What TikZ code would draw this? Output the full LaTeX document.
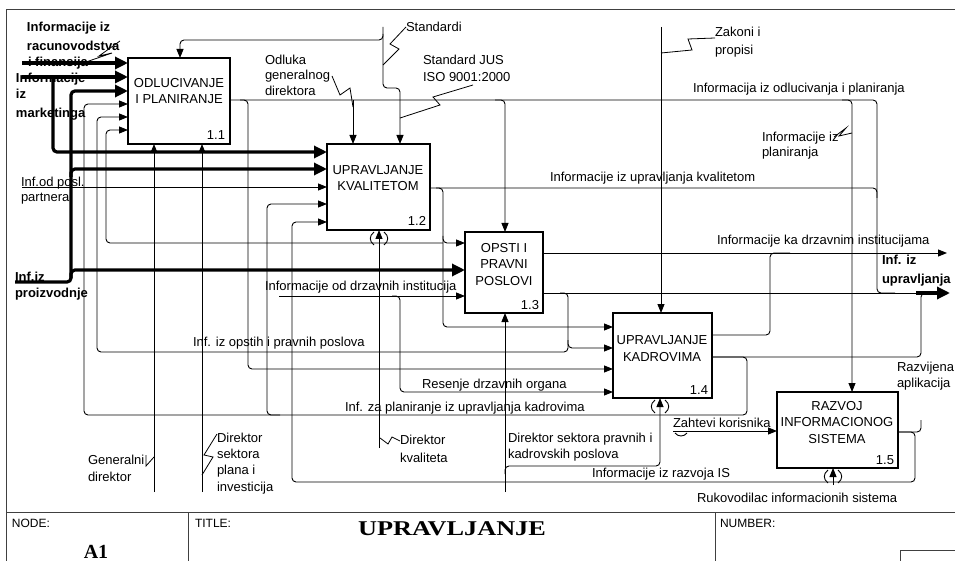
\documentclass[tikz,border=0pt]{standalone}
\usepackage{fontspec}
\usepackage{graphicx}
\setmainfont{Liberation Sans}
\newfontfamily\titlefont{Liberation Serif}
\usetikzlibrary{arrows.meta}
\begin{document}
\begin{tikzpicture}[x=1pt,y=-1pt,
  every node/.style={inner sep=0pt,outer sep=0pt},
  lb/.style={anchor=base west,font=\fontsize{13}{15}\selectfont},
  lbb/.style={anchor=base west,font=\fontsize{13}{15}\selectfont\bfseries},
  bt/.style={anchor=base,font=\fontsize{13}{15}\selectfont},
  num/.style={anchor=base east,font=\fontsize{13}{15}\selectfont},
  box/.style={draw,line width=1.6pt,fill=white},
  ln/.style={line width=0.9pt},
  rc/.style={rounded corners=4pt},
  ar/.style={line width=0.9pt,-{Triangle[length=9pt,width=7pt]}},
  tk/.style={line width=3.2pt,-{Triangle[length=13pt,width=12pt]}},
  sq/.style={line width=0.8pt},
  frame/.style={line width=1pt,black!75},
  tb/.style={anchor=base west,font=\fontsize{12}{14}\selectfont},
  tun/.style={line width=0.9pt}
]
\useasboundingbox (0,0) rectangle (955,561);

% frame and title block
\draw[frame] (6,561) -- (6,10) -- (955,10);
\draw[frame] (6,512) -- (955,512);
\draw[frame] (188,512) -- (188,561);
\draw[frame] (715,512) -- (715,561);
\draw[frame] (900,561) -- (900,550) -- (955,550);
\node[tb] (tnode) at (12,527) {NODE:};
\node[tb] (ttitle) at (195,527) {TITLE:};
\node[tb] (tnum) at (720,527) {NUMBER:};
\node[anchor=base,font=\fontsize{21}{24}\selectfont\titlefont\bfseries] (ttl) at (452,535) {\scalebox{1.25}[1]{UPRAVLJANJE}};
\node[anchor=base,font=\fontsize{20}{24}\selectfont\titlefont\bfseries] (ta1) at (96,558) {A1};

% boxes
\node[box,minimum width=102pt,minimum height=86pt] (b1) at (179,101) {};
\node[box,minimum width=103pt,minimum height=86pt] (b2) at (378.5,187) {};
\node[box,minimum width=78pt,minimum height=81pt] (b3) at (504,272.5) {};
\node[box,minimum width=99pt,minimum height=85pt] (b4) at (662.5,355.5) {};
\node[box,minimum width=121pt,minimum height=76pt] (b5) at (837.5,430) {};

\node[bt] (t11a) at (179,87.5) {ODLUCIVANJE};
\node[bt] (t11b) at (179,103.5) {I PLANIRANJE};
\node[num] (n11) at (225,139.5) {1.1};
\node[bt] (t12a) at (378,174.5) {UPRAVLJANJE};
\node[bt] (t12b) at (378,190.5) {KVALITETOM};
\node[num] (n12) at (426,226) {1.2};
\node[bt] (t13a) at (504,252) {OPSTI I};
\node[bt] (t13b) at (504,268.5) {PRAVNI};
\node[bt] (t13c) at (504,285) {POSLOVI};
\node[num] (n13) at (539,309) {1.3};
\node[bt] (t14a) at (662,344.5) {UPRAVLJANJE};
\node[bt] (t14b) at (662,361) {KADROVIMA};
\node[num] (n14) at (708,394) {1.4};
\node[bt] (t15a) at (837,410) {RAZVOJ};
\node[bt] (t15b) at (837,426.5) {INFORMACIONOG};
\node[bt] (t15c) at (837,443) {SISTEMA};
\node[num] (n15) at (894,464) {1.5};

% ---------- connectors ----------
% external inputs
\draw[tk] (22,63) -- (b1.west |- 0,63);
\draw[tk] (22,77) -- (b1.west |- 0,77);
\draw[tk,rc] (53,77) -- (53,152) -- (b2.west |- 0,152);
\draw[tk,rc] (15,282) -- (71,282) -- (71,91) -- (b1.west |- 0,91);
\draw[tk,rc] (71,177) -- (71,169) -- (b2.west |- 0,169);
\draw[tk,rc] (71,278) -- (71,270) -- (b3.west |- 0,270);
\draw[ar] (22,187) -- (b2.west |- 0,187);
\draw[ar] (279,296) -- (b3.west |- 0,296);
\draw[ar,rc] (392,296) -- (400,296) -- (400,392) -- (b4.west |- 0,392);

% controls
\draw[ar,rc] (383,27) -- (383,88) -- (400,88) -- (b2.north -| 400,0);
\draw[ar,rc] (383,34) -- (383,40) -- (180,40) -- (b1.north -| 180,0);
\draw[ar] (661,27) -- (b4.north -| 661,0);

% output of 1.1
\draw[ln,rc] (b1.east |- 0,100) -- (877,100) -- (877,293) -- (895,293);
\draw[ar,rc] (240,100) -- (248,100) -- (248,369) -- (b4.west |- 0,369);
\draw[ar] (353,100) -- (b2.north -| 353,0);
\draw[ar,rc] (495,100) -- (505,100) -- (b3.north -| 505,0);
\draw[ar,rc] (842,100) -- (852,100) -- (b5.north -| 852,0);

% output of 1.2
\draw[ln,rc] (b2.east |- 0,188) -- (877,188) -- (877,198);
\draw[ar,rc] (436,188) -- (443,188) -- (443,327) -- (b4.west |- 0,327);
\draw[ar,rc] (443,236) -- (443,243) -- (b3.west |- 0,243);
\draw[ar,rc] (443,243) -- (106,243) -- (106,130) -- (b1.west |- 0,130);

% outputs of 1.3
\draw[ar] (b3.east |- 0,253) -- (947,253);
\draw[ln] (b3.east |- 0,293) -- (921,293);
\draw[tk] (916,293) -- (950,293);
\draw[ar,rc] (560,293) -- (568,293) -- (568,352) -- (97,352) -- (97,117) -- (b1.west |- 0,117);
\draw[ar,rc] (568,340) -- (568,348) -- (b4.west |- 0,348);

% outputs of 1.4
\draw[ln,rc] (b4.east |- 0,335) -- (770,335) -- (770,253) -- (790,253);
\draw[ln,rc] (b4.east |- 0,357) -- (921,357) -- (921,293) -- (930,293);
\draw[ar,rc] (b4.east |- 0,357) -- (747,357) -- (747,415) -- (84,415) -- (84,104) -- (b1.west |- 0,104);
\draw[ar,rc] (280,415) -- (267,415) -- (267,204) -- (b2.west |- 0,204);

% outputs of 1.5
\draw[ln,rc] (b5.east |- 0,432) -- (921,432) -- (921,420);
\draw[ar,rc] (b5.east |- 0,432) -- (915,432) -- (915,482) -- (292,482) -- (292,222) -- (b2.west |- 0,222);
\draw[ar] (673,431) -- (b5.west |- 0,431);
\draw[tun] (675,433) .. controls (678,437) and (684,437) .. (687,433);

% mechanisms
\draw[ar] (154,492) -- (b1.south -| 154,0);
\draw[ar] (202,492) -- (b1.south -| 202,0);
\draw[ar] (379,448) -- (b2.south -| 379,0);
\draw[ar] (505,492) -- (b3.south -| 505,0);
\draw[ar,rc] (505,474) -- (505,466) -- (660,466) -- (b4.south -| 660,0);
\draw[ar] (833,485) -- (b5.south -| 833,0);
% tunnel parentheses
\draw[tun] (374,232) .. controls (369,236) and (369,241) .. (374,245);
\draw[tun] (384,232) .. controls (389,236) and (389,241) .. (384,245);
\draw[tun] (655,400) .. controls (650,404) and (650,409) .. (655,413);
\draw[tun] (665,400) .. controls (670,404) and (670,409) .. (665,413);
\draw[tun] (828,470) .. controls (823,474) and (823,479) .. (828,483);
\draw[tun] (838,470) .. controls (843,474) and (843,479) .. (838,483);

% squiggles
\draw[sq] (120,41) -- (99,56) -- (112,53) -- (86,62);
\draw[sq] (406,27) -- (390,44) -- (399,49) -- (383,65);
\draw[sq] (473,85) -- (433,97) -- (440,105) -- (400,118);
\draw[sq] (332,76) -- (340,95) -- (350,88) -- (353,107);
\draw[sq] (715,38) -- (688,39) -- (692,50) -- (661,53);
\draw[sq] (834,137) -- (846,128) -- (839,136) -- (852,133);
\draw[sq] (146,455) -- (146,466) -- (154,457);
\draw[sq] (217,434) -- (204,455) -- (213,457) -- (202,475);
\draw[sq] (380,438) -- (388,444) -- (392,437) -- (400,441);

% ---------- labels ----------
\node[lbb] (l1a) at (27,31.5) {Informacije iz};
\node[lbb] (l1b) at (27,50.5) {racunovodstva};
\node[lbb] (l1c) at (28,66.5) {i finansija};
\node[lbb] (l2a) at (16,83) {Informacije};
\node[lbb] (l2b) at (16,98.5) {iz};
\node[lbb] (l2c) at (16,117.5) {marketinga};
\node[lb] (l3a) at (21,186.5) {Inf.od posl.};
\node[lb] (l3b) at (21,201.5) {partnera};
\node[lbb] (l4a) at (15,281.5) {Inf.iz};
\node[lbb] (l4b) at (15,297.5) {proizvodnje};

\node[lb] (lstd) at (406,31.5) {Standardi};
\node[lb] (lod1) at (265,64.5) {Odluka};
\node[lb] (lod2) at (265,80) {generalnog};
\node[lb] (lod3) at (265,95.5) {direktora};
\node[lb] (ljus1) at (423,64.5) {Standard JUS};
\node[lb] (ljus2) at (423,81.5) {ISO 9001:2000};
\node[lb] (lzak1) at (715,36.5) {Zakoni i};
\node[lb] (lzak2) at (715,54.5) {propisi};
\node[lb] (lodl) at (693,92.5) {Informacija iz odlucivanja i planiranja};
\node[lb] (lpl1) at (762,141.5) {Informacije iz};
\node[lb] (lpl2) at (762,156.5) {planiranja};
\node[lb] (lkv) at (550,181.5) {Informacije iz upravljanja kvalitetom};

\node[lb] (lka) at (717,244.5) {Informacije ka drzavnim institucijama};
\node[lbb] (lup1) at (882,264.5) {Inf. iz};
\node[lbb] (lup2) at (882,283.5) {upravljanja};
\node[lb] (lod) at (265,290.5) {Informacije od drzavnih institucija};
\node[lb] (lops) at (193,346.5) {Inf. iz opstih i pravnih poslova};
\node[lb] (lraz1) at (897,371.5) {Razvijena};
\node[lb] (lraz2) at (897,387.5) {aplikacija};
\node[lb] (lres) at (422,388.5) {Resenje drzavnih organa};
\node[lb] (lzap) at (345,411.5) {Inf. za planiranje iz upravljanja kadrovima};
\node[lb] (lzah) at (673,427.5) {Zahtevi korisnika};
\node[lb] (ldp1) at (508,442.5) {Direktor sektora pravnih i};
\node[lb] (ldp2) at (508,458.5) {kadrovskih poslova};
\node[lb] (lris) at (592,477.5) {Informacije iz razvoja IS};
\node[lb] (lruk) at (697,502.5) {Rukovodilac informacionih sistema};

\node[lb] (lgd1) at (88,464.5) {Generalni};
\node[lb] (lgd2) at (88,481.5) {direktor};
\node[lb] (lds1) at (217,442.5) {Direktor};
\node[lb] (lds2) at (217,458.5) {sektora};
\node[lb] (lds3) at (217,474.5) {plana i};
\node[lb] (lds4) at (217,491.5) {investicija};
\node[lb] (ldk1) at (400,444.5) {Direktor};
\node[lb] (ldk2) at (400,462.5) {kvaliteta};
\end{tikzpicture}
\end{document}
